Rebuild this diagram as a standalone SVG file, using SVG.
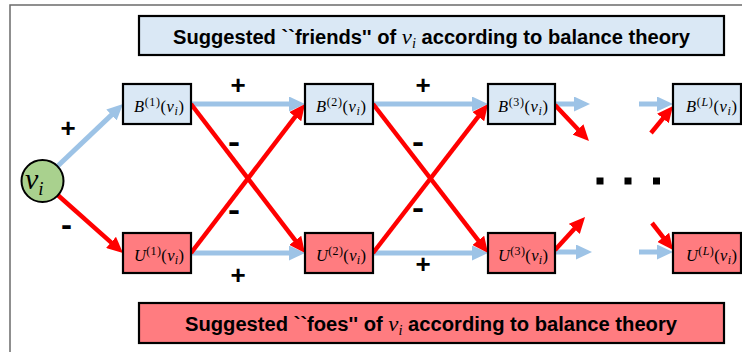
<svg xmlns="http://www.w3.org/2000/svg" width="742" height="352" viewBox="0 0 742 352">
<style>
.frame{fill:none;stroke:#6b6b6b;stroke-width:1.5}
.bbox{fill:#dae8f5;stroke:#000;stroke-width:2.2}
.ubox{fill:#ff7c80;stroke:#000;stroke-width:2.2}
.title{font-family:"Liberation Sans",Arial,sans-serif;font-weight:bold;font-size:19.5px;fill:#000}
.math{font-family:"Liberation Serif","DejaVu Serif",serif;font-style:italic;font-weight:normal}
.lbl{font-family:"Liberation Serif","DejaVu Serif",serif;font-size:16.5px;fill:#000}
.plus{font-family:"Liberation Sans",Arial,sans-serif;font-weight:bold;font-size:26px;fill:#000;text-anchor:middle}
.minus{font-family:"Liberation Sans",Arial,sans-serif;font-weight:bold;font-size:32px;fill:#000}
.blue{stroke:#9dc3e6;stroke-width:5;fill:none;marker-end:url(#ab)}
.red{stroke:#ff0000;stroke-width:4.5;fill:none;marker-end:url(#ar)}
</style>
<defs>
<marker id="ab" markerUnits="userSpaceOnUse" markerWidth="16" markerHeight="15" refX="6" refY="7.5" orient="auto">
<path d="M0,0 L16,7.5 L0,15 z" fill="#9dc3e6"/>
</marker>
<marker id="ar" markerUnits="userSpaceOnUse" markerWidth="16" markerHeight="15" refX="6" refY="7.5" orient="auto">
<path d="M0,0 L16,7.5 L0,15 z" fill="#ff0000"/>
</marker>
</defs>
<rect class="frame" x="10" y="5" width="740" height="360"/>

<g id="title-friends">
<rect class="bbox" x="139" y="16" width="585" height="39"/>
<text class="title" x="173" y="44" textLength="517" lengthAdjust="spacingAndGlyphs">Suggested ``friends'' of <tspan class="math" font-size="22">v</tspan><tspan class="math" font-size="14" dy="4">i</tspan><tspan dy="-4"> according to balance theory</tspan></text>
</g>
<g id="title-foes">
<rect class="ubox" x="139" y="303" width="585" height="40"/>
<text class="title" x="185" y="331" textLength="492" lengthAdjust="spacingAndGlyphs">Suggested ``foes'' of <tspan class="math" font-size="22">v</tspan><tspan class="math" font-size="14" dy="4">i</tspan><tspan dy="-4"> according to balance theory</tspan></text>
</g>

<g id="connectors">
<line class="blue" x1="57.2" y1="166.5" x2="115.8" y2="110.9"/>
<line class="red" x1="57.7" y1="195" x2="115.5" y2="246.4"/>
<line class="blue" x1="191" y1="104" x2="295" y2="104"/>
<line class="blue" x1="191" y1="253" x2="295" y2="253"/>
<line class="red" x1="191" y1="104" x2="298.9" y2="245.1"/>
<line class="red" x1="191" y1="253" x2="298.9" y2="111.9"/>
<line class="blue" x1="373" y1="104" x2="478" y2="104"/>
<line class="blue" x1="373" y1="253" x2="478" y2="253"/>
<line class="red" x1="373" y1="104" x2="481.9" y2="245.1"/>
<line class="red" x1="373" y1="253" x2="481.9" y2="111.9"/>
<line class="blue" x1="555" y1="104" x2="580" y2="104"/>
<line class="red" x1="555" y1="105" x2="582.1" y2="133.7"/>
<line class="blue" x1="639" y1="104" x2="663" y2="104"/>
<line class="red" x1="651" y1="133" x2="666.7" y2="113.8"/>
<line class="blue" x1="555" y1="252" x2="582" y2="252"/>
<line class="red" x1="555" y1="250" x2="578.3" y2="224.4"/>
<line class="blue" x1="639" y1="252" x2="663" y2="252"/>
<line class="red" x1="652" y1="223" x2="666.9" y2="242.1"/>
</g>

<g id="signs">
<text class="plus" x="68" y="137">+</text>
<text class="plus" x="238" y="94">+</text>
<text class="plus" x="423" y="94">+</text>
<text class="plus" x="238" y="284">+</text>
<text class="plus" x="423" y="273">+</text>
<text class="minus" x="61" y="235" textLength="11" lengthAdjust="spacingAndGlyphs">-</text>
<text class="minus" x="228" y="152" textLength="12" lengthAdjust="spacingAndGlyphs">-</text>
<text class="minus" x="228" y="220" textLength="12" lengthAdjust="spacingAndGlyphs">-</text>
<text class="minus" x="412" y="152" textLength="12" lengthAdjust="spacingAndGlyphs">-</text>
<text class="minus" x="412" y="218" textLength="12" lengthAdjust="spacingAndGlyphs">-</text>
</g>

<g id="vi">
<circle cx="42.5" cy="181" r="21" fill="#a9d18e" stroke="#000" stroke-width="2"/>
<text x="25" y="189" font-family="Liberation Serif,serif" font-style="italic" font-size="30" fill="#000">v<tspan font-size="19" dy="6">i</tspan></text>
</g>

<g id="B1"><rect class="bbox" x="123" y="84" width="68" height="40"/>
<text class="lbl" x="134" y="112" textLength="50" lengthAdjust="spacing"><tspan class="math">B</tspan><tspan font-size="12" dy="-6">(1)</tspan><tspan dy="6">(</tspan><tspan class="math">v</tspan><tspan class="math" font-size="12" dy="3">i</tspan><tspan dy="-3">)</tspan></text></g>
<g id="B2"><rect class="bbox" x="305" y="84" width="68" height="40"/>
<text class="lbl" x="316" y="112" textLength="50" lengthAdjust="spacing"><tspan class="math">B</tspan><tspan font-size="12" dy="-6">(2)</tspan><tspan dy="6">(</tspan><tspan class="math">v</tspan><tspan class="math" font-size="12" dy="3">i</tspan><tspan dy="-3">)</tspan></text></g>
<g id="B3"><rect class="bbox" x="488" y="84" width="67" height="40"/>
<text class="lbl" x="498" y="112" textLength="50" lengthAdjust="spacing"><tspan class="math">B</tspan><tspan font-size="12" dy="-6">(3)</tspan><tspan dy="6">(</tspan><tspan class="math">v</tspan><tspan class="math" font-size="12" dy="3">i</tspan><tspan dy="-3">)</tspan></text></g>
<g id="BL"><rect class="bbox" x="673" y="84" width="68" height="40"/>
<text class="lbl" x="686" y="112" textLength="51" lengthAdjust="spacing"><tspan class="math">B</tspan><tspan font-size="12" dy="-6">(<tspan class="math">L</tspan>)</tspan><tspan dy="6">(</tspan><tspan class="math">v</tspan><tspan class="math" font-size="12" dy="3">i</tspan><tspan dy="-3">)</tspan></text></g>

<g id="U1"><rect class="ubox" x="123" y="233" width="68" height="40"/>
<text class="lbl" x="134" y="261" textLength="50" lengthAdjust="spacing"><tspan class="math">U</tspan><tspan font-size="12" dy="-6">(1)</tspan><tspan dy="6">(</tspan><tspan class="math">v</tspan><tspan class="math" font-size="12" dy="3">i</tspan><tspan dy="-3">)</tspan></text></g>
<g id="U2"><rect class="ubox" x="305" y="233" width="68" height="40"/>
<text class="lbl" x="316" y="261" textLength="50" lengthAdjust="spacing"><tspan class="math">U</tspan><tspan font-size="12" dy="-6">(2)</tspan><tspan dy="6">(</tspan><tspan class="math">v</tspan><tspan class="math" font-size="12" dy="3">i</tspan><tspan dy="-3">)</tspan></text></g>
<g id="U3"><rect class="ubox" x="488" y="233" width="67" height="40"/>
<text class="lbl" x="498" y="261" textLength="50" lengthAdjust="spacing"><tspan class="math">U</tspan><tspan font-size="12" dy="-6">(3)</tspan><tspan dy="6">(</tspan><tspan class="math">v</tspan><tspan class="math" font-size="12" dy="3">i</tspan><tspan dy="-3">)</tspan></text></g>
<g id="UL"><rect class="ubox" x="673" y="233" width="68" height="40"/>
<text class="lbl" x="686" y="261" textLength="51" lengthAdjust="spacing"><tspan class="math">U</tspan><tspan font-size="12" dy="-6">(<tspan class="math">L</tspan>)</tspan><tspan dy="6">(</tspan><tspan class="math">v</tspan><tspan class="math" font-size="12" dy="3">i</tspan><tspan dy="-3">)</tspan></text></g>

<g id="ellipsis" fill="#000">
<rect x="596.5" y="177.5" width="7" height="7"/>
<rect x="624.5" y="177.5" width="7" height="7"/>
<rect x="653" y="177.5" width="7" height="7"/>
</g>
</svg>
